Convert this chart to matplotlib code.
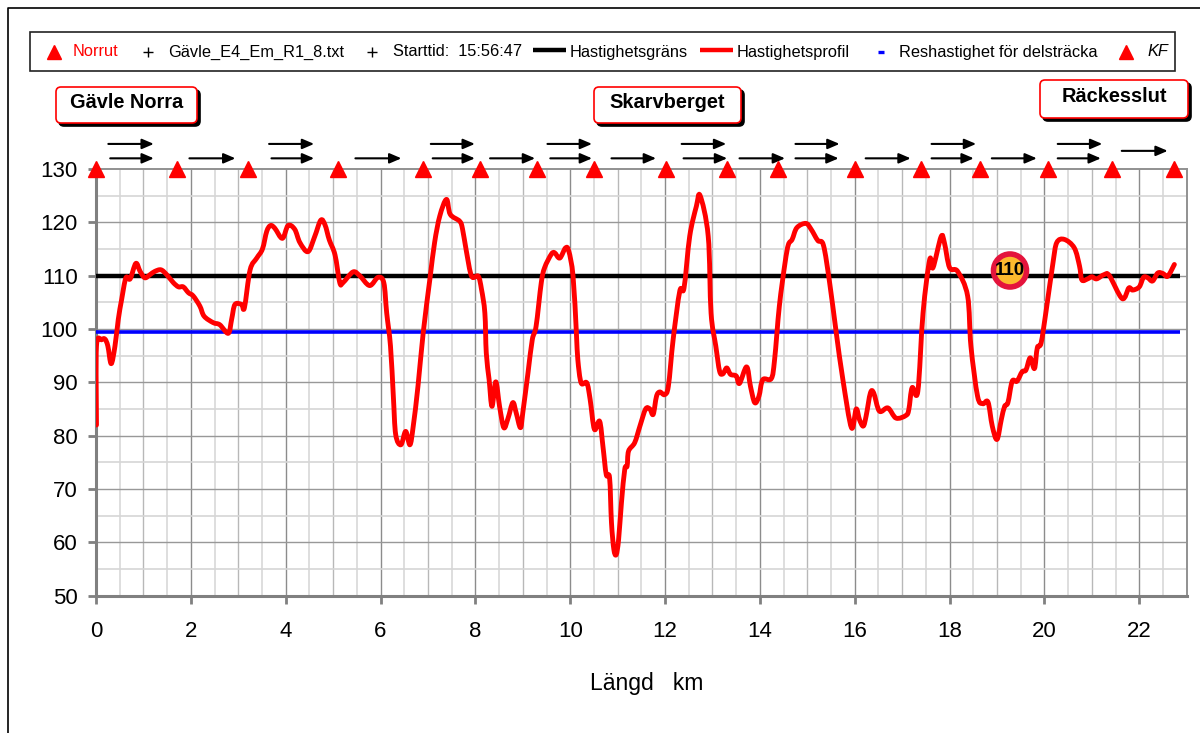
import matplotlib
matplotlib.use('Agg')
import matplotlib.pyplot as plt
from matplotlib.lines import Line2D
from matplotlib.patches import FancyBboxPatch, Rectangle, Circle, PathPatch
from matplotlib.path import Path
from matplotlib.transforms import IdentityTransform

plt.rcParams['font.family'] = ['Liberation Sans', 'DejaVu Sans']

# Hastighetsprofil
km = [0.01, 0.01, 0.12, 0.19, 0.25, 0.32, 0.40, 0.47, 0.54, 0.63, 0.72, 0.84, 0.93, 1.03, 1.14, 1.24, 1.37, 1.49,
      1.63, 1.74, 1.84, 1.95, 2.05, 2.19, 2.28, 2.47, 2.61, 2.79, 2.86, 2.93, 3.07, 3.13, 3.25, 3.39, 3.51, 3.60,
      3.68, 3.77, 3.93, 4.05, 4.19, 4.30, 4.47, 4.61, 4.74, 4.83, 4.92, 5.04, 5.14, 5.21, 5.42, 5.56, 5.77, 5.95,
      6.07, 6.13, 6.21, 6.27, 6.32, 6.43, 6.53, 6.62, 6.69, 6.79, 6.90, 7.04, 7.14, 7.25, 7.39, 7.47, 7.67, 7.73,
      7.81, 7.92, 8.06, 8.13, 8.20, 8.23, 8.29, 8.35, 8.43, 8.51, 8.60, 8.69, 8.79, 8.86, 8.95, 9.00, 9.11, 9.20,
      9.28, 9.39, 9.46, 9.60, 9.67, 9.78, 9.90, 9.97, 10.06, 10.13, 10.16, 10.23, 10.35, 10.42, 10.51, 10.62,
      10.69, 10.76, 10.83, 10.87, 10.92, 10.97, 11.02, 11.08, 11.15, 11.20, 11.23, 11.36, 11.47, 11.59, 11.68,
      11.75, 11.82, 11.89, 11.99, 12.07, 12.17, 12.31, 12.40, 12.52, 12.66, 12.74, 12.91, 12.97, 13.07, 13.15,
      13.22, 13.30, 13.38, 13.50, 13.57, 13.72, 13.80, 13.89, 13.98, 14.06, 14.24, 14.31, 14.41, 14.53, 14.60,
      14.68, 14.78, 14.97, 15.08, 15.22, 15.34, 15.47, 15.61, 15.75, 15.93, 16.03, 16.10, 16.18, 16.24, 16.33,
      16.40, 16.52, 16.70, 16.87, 17.08, 17.14, 17.21, 17.33, 17.44, 17.58, 17.65, 17.82, 17.89, 18.00, 18.17,
      18.38, 18.45, 18.59, 18.70, 18.81, 18.90, 19.00, 19.09, 19.16, 19.23, 19.32, 19.42, 19.53, 19.61, 19.70,
      19.79, 19.85, 19.93, 20.04, 20.18, 20.26, 20.42, 20.63, 20.74, 20.79, 20.91, 21.00, 21.10, 21.26, 21.37,
      21.64, 21.78, 21.86, 22.00, 22.09, 22.18, 22.28, 22.39, 22.50, 22.60, 22.74]
speed = [82, 96.8, 98, 98.1, 96.8, 93.5, 96.8, 101.8, 105.5, 109.6, 109.4, 112.3, 110.8, 109.6, 110.2, 110.8, 111.1,
         110.2, 108.7, 107.9, 107.9, 106.8, 106.2, 104.3, 102.4, 101.2, 100.8, 99.2, 101.8, 104.6, 104.6, 104, 111.1,
         113.3, 115, 118.3, 119.4, 118.9, 117, 119.4, 118.7, 116.2, 114.5, 117.3, 120.4, 119.5, 116.7, 113.9, 108.7,
         108.7, 110.7, 110, 108.15, 109.7, 108.65, 103, 96.8, 87.4, 80.2, 78.3, 80.8, 78.3, 81.8, 89.3, 99.3, 109.3,
         116.2, 121.2, 124.3, 121.5, 120.2, 118.7, 114.6, 109.9, 109.9, 107.4, 103, 95.5, 90.5, 85.5, 90.1, 85.5,
         81.5, 83.3, 86.2, 84.3, 81.5, 84.3, 91.8, 98, 100.5, 108.7, 111.5, 114, 114.3, 113.3, 115.2, 114.6, 109.9,
         99.3, 94.3, 89.9, 89.9, 86.8, 81.2, 82.7, 78, 72.7, 72.1, 63.7, 58.7, 57.7, 60.5, 67.4, 73.7, 74.3, 77.1,
         78.7, 81.8, 85, 85, 84, 87.4, 88.2, 87.7, 89.3, 98, 107.1, 107.7, 117.4, 123, 125, 117.4, 103, 96.8, 92.1,
         91.6, 92.7, 91.5, 91.2, 89.8, 92.9, 89.3, 86.2, 87.4, 90.5, 90.7, 94.3, 104.3, 112.4, 115.8, 116.8, 119,
         119.8, 118.7, 116.6, 115.7, 108.7, 99.3, 90.5, 81.5, 85, 83, 81.8, 83.7, 88, 88, 84.6, 85.2, 83.3, 83.8,
         84.9, 89, 88.3, 103, 113, 111.5, 117.3, 116.2, 111.5, 110.8, 106.2, 96.8, 87.4, 86, 86.3, 81.8, 79.3, 83,
         85.5, 86.2, 90.2, 90.2, 92, 92.3, 94.6, 92.6, 96.5, 97.4, 103.7, 112.4, 116.2, 116.8, 115.2, 111.8, 109.2,
         109.4, 109.8, 109.4, 110.2, 110, 105.7, 107.7, 107.3, 107.9, 109.7, 109.6, 109, 110.5, 110.4, 109.9, 112.1]

limit_km = [0, 22.85]
limit_speed = [110, 110]
travel_km = [0, 22.85]
travel_speed = [99.4, 99.4]

# KF triangles along the top
kf_km = [0, 1.71, 3.20, 5.10, 6.89, 8.09, 9.29, 10.50, 12.03, 13.30, 14.39, 16.00, 17.39, 18.65, 20.08, 21.43, 22.74]
kf_speed = [130] * len(kf_km)

# arrows, start km, end km, speed level
arrow_start = [0.30, 1.97, 3.70, 5.47, 7.10, 8.31, 9.58, 10.87, 12.39, 13.57, 14.75, 16.23, 17.62, 18.89, 20.28,
               0.26, 3.65, 7.06, 9.52, 12.35, 14.75, 17.62, 20.28, 21.63]
arrow_end = [1.22, 2.94, 4.60, 6.44, 7.99, 9.26, 10.46, 11.81, 13.31, 14.53, 15.66, 17.18, 18.51, 19.84, 21.19,
             1.22, 4.60, 7.99, 10.46, 13.29, 15.68, 18.56, 21.22, 22.60]
arrow_speed = [132, 132, 132, 132, 132, 132, 132, 132, 132, 132, 132, 132, 132, 132, 132,
               134.7, 134.7, 134.7, 134.7, 134.7, 134.7, 134.7, 134.7, 133.4]

y_ticks = [50, 60, 70, 80, 90, 100, 110, 120, 130]
x_ticks = list(range(0, 23, 2))

W, H = 1200, 733
fig = plt.figure(figsize=(W / 100, H / 100), dpi=100)

# axes box in pixels
left, right, top, bottom = 96, 1186.7, 169, 595.7
ax = fig.add_axes([left / W, 1 - bottom / H, (right - left) / W, (bottom - top) / H])
ax.set_xlim(0, 23)
ax.set_ylim(50, 130)
ax.set_axisbelow(True)

# grid, 0.5 km / 5 km/h is the light one
for x in [i * 0.5 for i in range(1, 46)]:
    if x % 2 == 0:
        c, lw = '#8c8c8c', 1.0
    elif x % 1 == 0:
        c, lw = '#b8b8b8', 1.0
    else:
        c, lw = '#d8d8d8', 1.2
    ax.axvline(x, color=c, lw=lw, zorder=1)
for y in range(55, 130, 5):
    if y % 10 == 0:
        ax.axhline(y, color='#989898', lw=1.0, zorder=1)
    else:
        ax.axhline(y, color='#d6d6d6', lw=1.2, zorder=1)

for s in ['left', 'bottom']:
    ax.spines[s].set_color('#808080')
    ax.spines[s].set_linewidth(2.2)
for s in ['top', 'right']:
    ax.spines[s].set_color('#909090')
    ax.spines[s].set_linewidth(1.4)

ax.set_xticks(x_ticks)
ax.set_yticks(y_ticks)
ax.tick_params(axis='both', length=6, width=2, color='#808080', labelsize=16, pad=12)
ax.tick_params(axis='y', pad=7)
ax.set_xlabel('Längd   km', fontsize=16.5, labelpad=22)
ax.xaxis.label.set_x((647 - left) / (right - left))

ax.plot(limit_km, limit_speed, color='black', lw=3.2, zorder=3, solid_capstyle='butt')
ax.plot(travel_km, travel_speed, color='#0000ff', lw=2.6, zorder=3, solid_capstyle='butt')

# the profile is a smoothed line in the original, so curve segments through the read points
verts = [(km[0], speed[0])]
codes = [Path.MOVETO]
n = len(km)
for i in range(n - 1):
    p0 = max(i - 1, 0)
    p3 = min(i + 2, n - 1)
    verts.append((km[i] + (km[i + 1] - km[p0]) / 6, speed[i] + (speed[i + 1] - speed[p0]) / 6))
    verts.append((km[i + 1] - (km[p3] - km[i]) / 6, speed[i + 1] - (speed[p3] - speed[i]) / 6))
    verts.append((km[i + 1], speed[i + 1]))
    codes += [Path.CURVE4, Path.CURVE4, Path.CURVE4]
ax.add_patch(PathPatch(Path(verts, codes), fc='none', ec='#ff0000', lw=3.5, zorder=4, joinstyle='round', capstyle='round'))

ax.plot(kf_km, kf_speed, ls='none', marker='^', color='#ff0000', ms=11.5, zorder=5, clip_on=False)

for a, b, v in zip(arrow_start, arrow_end, arrow_speed):
    ax.annotate('', xy=(b, v), xytext=(a, v), annotation_clip=False,
                arrowprops=dict(arrowstyle='-|>,head_length=0.7,head_width=0.3', color='black', lw=1.5,
                                shrinkA=0, shrinkB=0))


def fx(px):
    return px / W


def fy(py):
    return 1 - py / H


# outer chart frame, only top and left show
fig.add_artist(Line2D([fx(7.5), fx(7.5), fx(1200)], [0, fy(7.5), fy(7.5)], color='black', lw=1.2))

# legend row, placed by hand like the original
fig.add_artist(Rectangle((fx(30), fy(71)), 1145 / W, 39 / H, transform=fig.transFigure, fc='white', ec='#222222', lw=1.2))
leg_y = 52
for px, txt, col, style in [(73, 'Norrut', '#ff0000', 'normal'), (168, 'Gävle_E4_Em_R1_8.txt', 'black', 'normal'),
                            (393, 'Starttid:  15:56:47', 'black', 'normal'), (570, 'Hastighetsgräns', 'black', 'normal'),
                            (737, 'Hastighetsprofil', 'black', 'normal'), (899, 'Reshastighet för delsträcka', 'black', 'normal'),
                            (1147, 'KF', 'black', 'italic')]:
    fig.text(fx(px), fy(leg_y), txt, color=col, style=style, fontsize=11.8, va='center', ha='left')
for px in [147.5, 372]:
    fig.add_artist(Line2D([fx(px)], [fy(leg_y)], ls='none', marker='+', color='black', ms=6.5, mew=1))
for px in [53.5, 1126]:
    fig.add_artist(Line2D([fx(px)], [fy(leg_y)], ls='none', marker='^', color='#ff0000', ms=9.5))
fig.add_artist(Line2D([fx(533), fx(566)], [fy(50), fy(50)], color='black', lw=3.2, solid_capstyle='butt'))
fig.add_artist(Line2D([fx(700), fx(733)], [fy(50), fy(50)], color='#ff0000', lw=3.2, solid_capstyle='butt'))
fig.add_artist(Line2D([fx(878), fx(884)], [fy(52), fy(52)], color='#0000ff', lw=2.4, solid_capstyle='butt'))


# place name boxes with a black shadow, pixel coordinates
def name_box(x0, x1, y0, y1, name):
    for dx, fc, ec, z in [(3, 'black', 'black', 6), (0, 'white', '#ff0000', 7)]:
        fig.add_artist(FancyBboxPatch((x0 + dx, H - y1 - dx), x1 - x0, y1 - y0,
                                      boxstyle='round,pad=0,rounding_size=5', transform=IdentityTransform(),
                                      fc=fc, ec=ec, lw=1.2, zorder=z))
    fig.text(fx((x0 + x1) / 2), fy((y0 + y1) / 2 - 3 if y0 < 85 else (y0 + y1) / 2 - 2), name, fontsize=14.4, fontweight='bold',
             ha='center', va='center', zorder=8)


name_box(56, 197, 87, 123, 'Gävle Norra')
name_box(594, 741, 87, 123, 'Skarvberget')
name_box(1040, 1188, 80, 118, 'Räckesslut')

# 110 sign
fig.add_artist(Circle((1010, H - 270.5), 16.5, transform=IdentityTransform(), fc='#fdb92e', ec='#e4143c', lw=4, zorder=9))
fig.text(fx(1010), fy(271), '110', family=['Liberation Sans Narrow', 'Liberation Sans'], fontsize=13.5, fontweight='bold',
         ha='center', va='center', zorder=10)

plt.savefig('out.png', dpi=100)
